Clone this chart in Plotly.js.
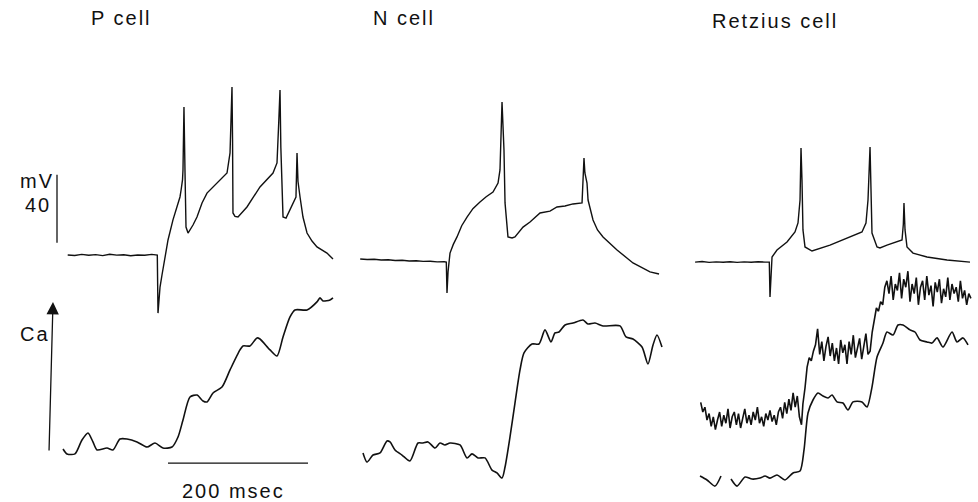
<!DOCTYPE html>
<html>
<head>
<meta charset="utf-8">
<script src="https://cdn.plot.ly/plotly-3.0.1.min.js"></script>
<style>
html,body{margin:0;padding:0;background:#fff;}
#chart{width:978px;height:502px;}
.annotation-text{letter-spacing:2px;}
</style>
</head>
<body>
<div id="chart"></div>
<script>
// ---------- DATA (time in ms from stimulus, membrane potential in mV, Ca signal in arbitrary units) ----------
var cellNames = ["P cell", "N cell", "Retzius cell"];
var timeBarMs = 200;
var mVBar = 40;

// P cell membrane potential
var tP_vm = [-129,-119,-109,-99,-89,-79,-69,-59,-49,-39,-29,-19,-9,-1,
  0,1.4,2.9,5.7,10,14.3,21.4,25.7,31.4,33,35,35.7,37.1,38.6,40,42.9,50,55.7,62.9,70,78.6,88.6,98.6,
  102.9,104.5,105.7,106.5,107.1,110,114.3,127.1,145.7,164.3,170,172.5,174.3,175.5,178.6,182.9,192.9,197.1,198.6,200,202.9,207.1,212.9,220,227.1,241.4,250];
var vP = [-48.2,-48.5,-47.9,-48.4,-48.0,-48.6,-47.8,-48.3,-48.1,-48.7,-48.2,-48.4,-47.9,-48.3,
  -82.4,-74.7,-67.1,-60,-49.4,-39.4,-27.6,-21.8,-14.1,-10,-4.1,1.8,38.8,0,-31.8,-35.3,-30.6,-25.9,-17.6,-11.8,-8.2,-4.1,0,
  11.8,35,50.6,20,-23.5,-25.5,-25.9,-20,-8.2,0,5.9,30,48.8,15,-25.9,-26.5,-17.6,-14.1,11.8,-5,-14.1,-25.9,-35.3,-40,-43.5,-47.1,-50.6];

// P cell Ca signal
var tP_ca = [-135.7,-130,-118.6,-108.6,-100,-92.9,-87.1,-72.9,-64.3,-54.3,-44.3,-30,-15.7,-4.3,7.1,20,28.6,35.7,45.7,55.7,64.3,70,78.6,91.4,102.9,117.1,121.4,131.4,141.4,145.7,160,170,178.6,188.6,195.7,212.9,227.1,231.4,235.7,245.7,250];
var caP = [6.9,3.8,3.8,12.5,16.9,11.3,6.3,7.5,6.3,13.1,13.1,11.3,8.1,10.6,7.5,8.1,14.4,25,39.4,40.6,36.9,36.3,41.9,45.6,56.3,68.8,71.3,71.3,76.3,75.6,68.8,65,76.9,89.4,93.8,93.8,98.8,101.3,99.4,100,101.3];

// N cell membrane potential
var tN_vm = [-124,-114,-104,-94,-84,-74,-64,-54,-44,-34,-24,-14,-4,-1,
  0,1.5,4.3,9,14.3,21,28.6,37,47.1,56,65.7,72.9,75.7,78.6,81.4,82.9,87.1,92.9,97.1,108.6,118.6,132.9,147.1,157.1,168.6,180,192.9,194.5,195.7,197,200,201.5,208.6,215,222.9,242.9,265.7,290,302.9];
var vN = [-50.6,-50.9,-50.7,-51.2,-51.0,-51.5,-51.3,-51.8,-51.6,-52.0,-51.9,-52.3,-52.2,-52.4,
  -70.6,-58,-47.1,-42,-37.6,-31,-25.9,-21,-17.1,-14,-11.2,-5.9,1.8,41.8,13.5,-17.6,-37.6,-38.2,-37.6,-31.8,-28.8,-23.5,-22.4,-20,-19.4,-18.2,-17.6,-5,8.8,0,-5.9,-15.9,-27.6,-33.5,-37.6,-45.3,-52.9,-58.2,-59.4];

// N cell Ca signal
var tN_ca = [-120,-114.3,-105.7,-95.7,-85.7,-81.4,-74.3,-64.3,-52.9,-41.4,-34.3,-27.1,-17.1,-10,-2.9,4.3,18.6,28.6,35.7,44.3,54.3,64.3,71.4,78.6,82.9,90,97.1,104.3,110,121.4,131.4,140,148.6,154.3,160,168.6,180,194.3,201.4,211.4,222.9,247.1,255.7,265.7,278.6,287.1,294.3,300,307.1];
var caN = [4.4,-1.3,3.1,4.4,11.9,11.3,6.3,3.1,-0.6,10.6,10.6,11.3,7.5,10.6,9.4,10.6,9.4,1.3,3.8,1.3,1.3,-6.3,-8.1,-11.3,-4.4,14.4,35.6,56.3,66.9,72.5,72.5,81.3,73.8,79.4,80,84.4,85.6,87.5,85,85.6,83.8,83.8,76.9,75.6,70.6,60,71.9,78.1,70.6];

// Retzius cell membrane potential
var tR_vm = [-107,-97,-87,-77,-67,-57,-47,-37,-27,-17,-7,-1,
  0,1.5,2.9,10,24.3,35.7,40,42.9,44.3,45.7,47.1,50,60,85.7,110,131.4,137.1,140,142.9,144.3,145.7,152.9,157.1,167.1,188.6,190.5,191.4,192.9,195.7,204.3,224.3,252.9,285.7];
var vR = [-52.4,-52.1,-52.6,-52.3,-52.5,-52.2,-52.6,-52.3,-52.5,-52.2,-52.4,-52.4,
  -72.9,-55,-49.4,-45.3,-40.6,-34.7,-29.4,-15.9,14.7,-4.1,-33.5,-43.5,-45.9,-42.4,-38.2,-34.7,-29.4,-15.9,15.3,-4.1,-35.3,-43.5,-44.1,-42.4,-39.4,-30,-17.6,-33.5,-43.5,-47.1,-49.4,-51.2,-52.4];

// Retzius cell Ca signal, raw (noisy)
var tR_caRaw = [-99,-96,-93,-90,-87,-84,-81,-78,-75,-72,-69,-66,-63,-60,-57,-54,-51,-48,-45,-42,-39,-36,-33,-30,-27,-24,-21,-18,-15,-12,-9,-6,-3,0,3,6,9,12,15,18,21,24,27,30,33,36,39,42,
  45,47,50,53,56,
  59,62,65,68,71,74,77,80,83,86,89,92,95,98,101,104,107,110,113,116,119,122,125,128,131,134,137,140,143,
  146,149,152,155,158,161,
  164,167,170,173,176,179,182,185,188,191,194,197,200,203,206,209,212,215,218,221,224,227,230,233,236,239,242,245,248,251,254,257,260,263,266,269,272,275,278,281,284,287];
var caR_raw = [36,30,33,25,29,21,27,19,25,30,21,28,23,32,20,27,30,22,29,20,26,32,23,28,22,30,25,33,23,27,21,29,25,31,24,28,22,30,33,26,36,29,38,31,42,33,40,27,
  22,35,45,58,64,
  62,68,72,82,66,74,62,71,77,65,73,62,70,60,75,67,72,60,74,66,78,64,71,76,63,70,79,66,68,
  80,88,95,93,99,97,
  108,112,104,115,100,110,106,117,101,113,108,118,99,110,104,114,97,108,112,100,115,103,109,96,111,105,113,98,107,102,114,100,110,104,108,99,112,101,106,97,104,101];

// Retzius cell Ca signal, smoothed
var tR_ca = [-100,-90,-78.6,-70,null,-55.7,-47.1,-35.7,-25.7,-14.3,-7.1,0,10,21.4,32.9,42.9,48.6,54.3,61.4,68.6,75.7,82.9,88.6,95.7,104.3,111.4,118.6,131.4,138.6,145.7,152.9,161.4,167.1,175.7,182.9,190,200,207.1,214.3,224.3,231.4,238.6,247.1,260,267.1,275.7,282.9];
var caR = [-10,-12.5,-16.3,-10,null,-11.9,-16.3,-10.6,-11.9,-11.3,-10,-11.3,-9.4,-12.5,-8.1,-6.9,6.3,29.4,37.5,41.9,40,38.8,40.6,36.3,35.6,31.3,36.3,36.3,33.1,45.6,64.4,73.1,80,78.1,84.4,84.4,81.3,80,75,73.8,73.1,76.3,70.6,80,73.8,76.3,71.9];

// ---------- FIGURE ----------
var PX_PER_MS = 0.7, PX_PER_MV = 1.7, PX_PER_CA = 1.6, W = 978, H = 502;
var onsetPx = [158, 447, 770];          // column placement of each cell's stimulus
var restPx = 258, restMV = -50, caZeroPx = 460;

function xr(onset){ return [-onset/PX_PER_MS, (W-onset)/PX_PER_MS]; }
function tr(x,y,xa,ya,w,smooth){
  var ln = {color:'#111',width:w||1.5};
  if(smooth){ ln.shape='spline'; ln.smoothing=smooth; }
  return {x:x,y:y,xaxis:xa,yaxis:ya,type:'scatter',mode:'lines',line:ln,
    connectgaps:false,hoverinfo:'skip',showlegend:false}; }

var data = [
  tr(tP_vm,vP,'x','y',1.4), tr(tP_ca,caP,'x','y2',1.6,0.7),
  tr(tN_vm,vN,'x2','y',1.4), tr(tN_ca,caN,'x2','y2',1.6,0.7),
  tr(tR_vm,vR,'x3','y',1.4), tr(tR_caRaw,caR_raw,'x3','y2',1.6), tr(tR_ca,caR,'x3','y2',1.6,0.7)
];

var hidden = {visible:false, showgrid:false, zeroline:false, fixedrange:true};
var font = {family:'"Liberation Sans", Arial, sans-serif', size:20, color:'#111'};
function ann(text,px,py,anchor){ return {text:text,xref:'paper',yref:'paper',x:px/W,y:1-py/H,
  xanchor:anchor||'left',yanchor:'middle',showarrow:false,font:font}; }

var barStart = (168-onsetPx[0])/PX_PER_MS;
var mvBarX = (57-onsetPx[0])/PX_PER_MS;
var layout = {
  width:W, height:H, margin:{l:0,r:0,t:0,b:0},
  paper_bgcolor:'#fff', plot_bgcolor:'#fff', showlegend:false,
  xaxis: Object.assign({domain:[0,1],range:xr(onsetPx[0]),anchor:'y'},hidden),
  xaxis2:Object.assign({domain:[0,1],range:xr(onsetPx[1]),anchor:'y',overlaying:'x'},hidden),
  xaxis3:Object.assign({domain:[0,1],range:xr(onsetPx[2]),anchor:'y',overlaying:'x'},hidden),
  yaxis: Object.assign({domain:[0,1],range:[restMV-(H-restPx)/PX_PER_MV, restMV+restPx/PX_PER_MV],anchor:'x'},hidden),
  yaxis2:Object.assign({domain:[0,1],range:[(caZeroPx-H)/PX_PER_CA, caZeroPx/PX_PER_CA],anchor:'x',overlaying:'y'},hidden),
  shapes:[
    {type:'line',xref:'x',yref:'y2',x0:barStart,x1:barStart+timeBarMs,y0:-1.9,y1:-1.9,line:{color:'#111',width:1.3}},
    {type:'line',xref:'x',yref:'y',x0:mvBarX,x1:mvBarX,y0:-41,y1:-41+mVBar,line:{color:'#111',width:1.3}}
  ],
  annotations:[
    ann(cellNames[0],89,18), ann(cellNames[1],371,18), ann(cellNames[2],710,21),
    ann('mV',18,181), ann('40',23,205), ann('Ca',18,334),
    ann(timeBarMs+' msec',233,491,'center'),
    {text:'',xref:'x',yref:'y2',x:(53-onsetPx[0])/PX_PER_MS,y:98.75,axref:'x',ayref:'y2',
     ax:(49-onsetPx[0])/PX_PER_MS,ay:5,showarrow:true,arrowhead:2,arrowsize:1.9,arrowwidth:1.3,arrowcolor:'#111'}
  ]
};
Plotly.newPlot('chart',data,layout,{staticPlot:true,displayModeBar:false});
</script>
</body>
</html>
